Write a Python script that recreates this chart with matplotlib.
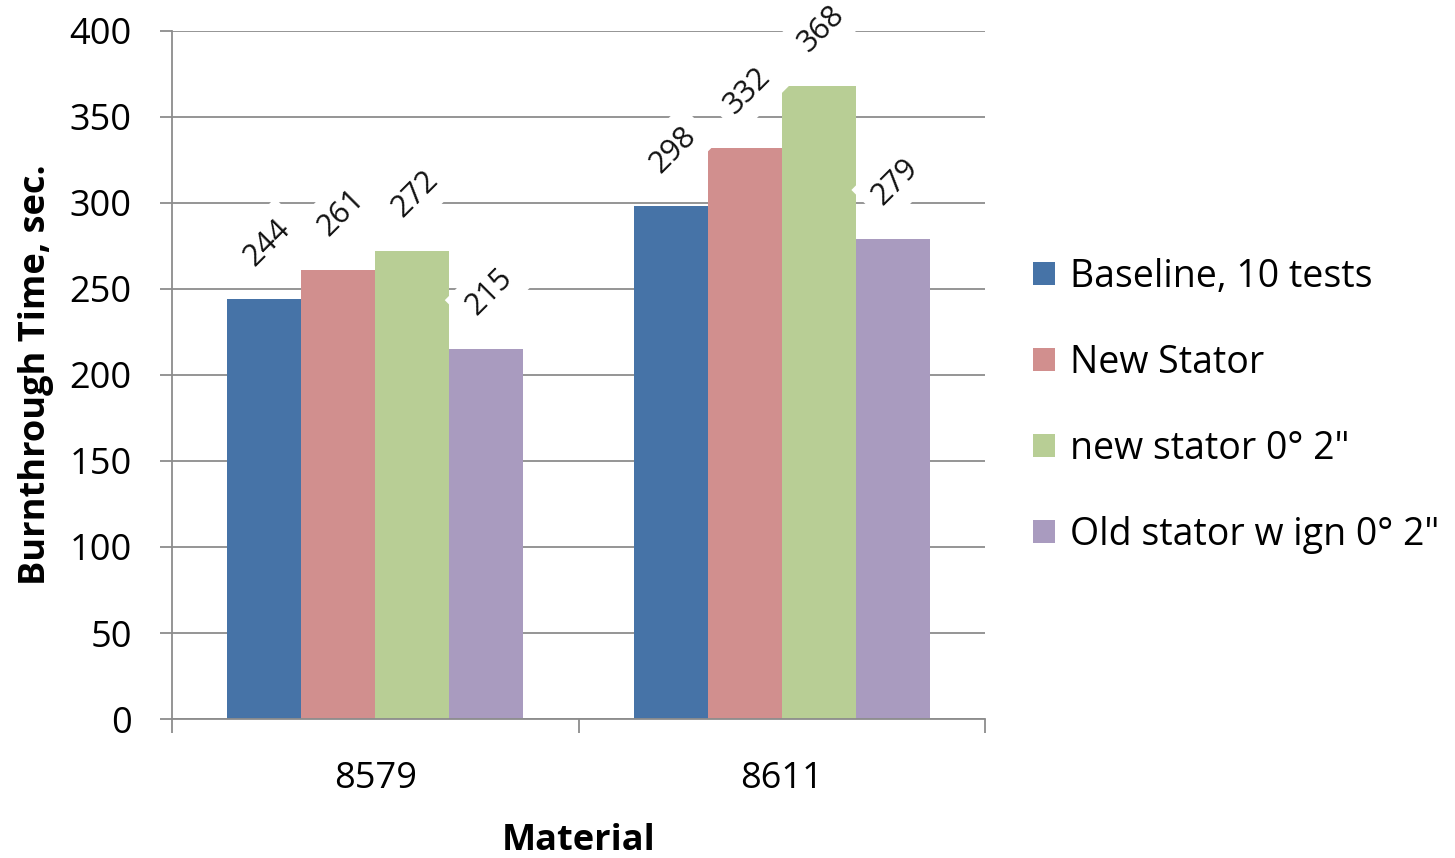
import matplotlib
matplotlib.use("Agg")
import matplotlib.pyplot as plt
import numpy as np

plt.rcParams['font.family'] = ['Open Sans', 'DejaVu Sans']

materials = ["8579", "8611"]
series_names = ["Baseline, 10 tests", "New Stator", "new stator 0° 2\"", "Old stator w ign 0° 2\""]
baseline = [244, 298]
new_stator = [261, 332]
new_stator_0_2 = [272, 368]
old_stator_ign = [215, 279]
colors = ["#4673A7", "#D18F8E", "#B8CE95", "#A99BBF"]

series = [baseline, new_stator, new_stator_0_2, old_stator_ign]

fig = plt.figure(figsize=(14.55, 8.58), dpi=100)
ax = fig.add_axes([0.1182, 0.162, 0.5588, 0.8019])

x = np.arange(len(materials))
bw = 0.182
offsets = (np.arange(4) - 1.5) * bw
grid_c = "#8C8C8C"

for vals, off, col, name in zip(series, offsets, colors, series_names):
    bars = ax.bar(x + off, vals, width=bw, color=col, label=name, zorder=2)
    for b, v in zip(bars, vals):
        ax.annotate(str(v), (b.get_x() + b.get_width() / 2, v),
                    xytext=(2, 41), textcoords="offset points",
                    ha="center", va="center", rotation=45, rotation_mode="anchor",
                    fontsize=22, color="#111111", zorder=4,
                    bbox=dict(boxstyle="square,pad=0.35", fc="white", ec="none"))

ax.set_xlim(-0.5, 1.5)
ax.set_ylim(0, 400)
ax.set_yticks(np.arange(0, 401, 50))
ax.yaxis.grid(True, color=grid_c, linewidth=1.3, zorder=0)
ax.set_axisbelow(True)

ax.set_xticks(x)
ax.set_xticklabels(materials)
ax.set_xticks([-0.5, 0.5, 1.5], minor=True)
ax.tick_params(axis="x", which="major", length=0, pad=30, labelsize=26)
ax.tick_params(axis="x", which="minor", length=10, color=grid_c, width=1.3)
ax.tick_params(axis="y", length=9, color=grid_c, width=1.3, labelsize=26, pad=20)

for s in ["top", "right"]:
    ax.spines[s].set_visible(False)
for s in ["left", "bottom"]:
    ax.spines[s].set_color(grid_c)
    ax.spines[s].set_linewidth(1.3)

ax.set_xlabel("Material", fontsize=26, fontweight="bold", labelpad=19)
ax.set_ylabel("Burnthrough Time, sec.", fontsize=26, fontweight="bold", labelpad=11)

leg = ax.legend(loc="upper left", bbox_to_anchor=(1.041, 0.692), frameon=False,
                fontsize=27, labelspacing=1.28, handlelength=0.59, handleheight=0.59,
                handletextpad=0.4, borderaxespad=0)

fig.savefig("out.png", dpi=100)
